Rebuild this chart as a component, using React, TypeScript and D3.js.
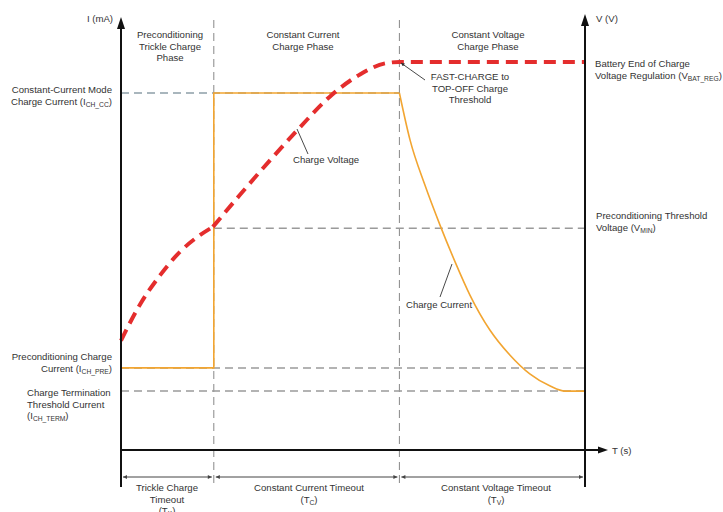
import React from "react";
import * as d3 from "d3";

// time in % of total charge cycle; phase boundaries
const phaseBounds = [0, 20, 60, 100];
const phaseLabels = [["Preconditioning", "Trickle Charge", "Phase"], ["Constant Current", "Charge Phase"], ["Constant Voltage", "Charge Phase"]];
const timeoutLabels = [["Trickle Charge", "Timeout", "(T|K|)"], ["Constant Current Timeout", "(T|C|)"], ["Constant Voltage Timeout", "(T|V|)"]];

// current levels (mA, relative)
const I_CC = 100;
const I_PRE = 23;
const I_TERM = 16.5;
// voltage levels
const V_BAT_REG = 4.2;
const V_MIN = 3.0;

// charge current curve
const currentT = [0, 20, 20, 60, 62.3, 65.5, 68.75, 72, 75.2, 79.5, 83.8, 88.1, 92.5, 95.7, 100];
const currentI = [23, 23, 100, 100, 86.8, 74.2, 63, 52.7, 43.4, 33.6, 26.6, 21.3, 17.9, 16.5, 16.5];
// charge voltage curve (two segments: preconditioning, then fast charge)
const voltT1 = [0, 4.1, 8.4, 12.7, 17, 19.8];
const voltV1 = [2.19, 2.45, 2.66, 2.83, 2.95, 3.01];
const voltT2 = [19.8, 25.6, 32.1, 38.6, 45, 51.5, 56.9, 60, 100];
const voltV2 = [3.01, 3.24, 3.49, 3.73, 3.95, 4.11, 4.19, 4.2, 4.2];

const FONT = "'Liberation Sans', Arial, sans-serif";
const FS = 9.6;
const TXT = "#333";

function Lbl({ x, y, lines, anchor = "start", lh = 11.7 }: { x: number; y: number; lines: string[]; anchor?: string; lh?: number }) {
  return (
    <text x={x} y={y} textAnchor={anchor as any} fontFamily={FONT} fontSize={FS} fill={TXT}>
      {lines.map((l, i) => {
        const parts = l.split("|");
        return (
          <tspan key={i} x={x} y={y + i * lh}>
            {parts.map((p, j) =>
              j % 2 === 1 ? (
                <tspan key={j} fontSize={FS * 0.7} dy={2}>{p}</tspan>
              ) : (
                <tspan key={j} dy={j > 0 ? -2 : 0}>{p}</tspan>
              )
            )}
          </tspan>
        );
      })}
    </text>
  );
}

export default function App() {
  const x = d3.scaleLinear().domain([0, 100]).range([121, 585]);
  const yI = d3.scaleLinear().domain([0, 100]).range([450, 93]);
  const yV = d3.scaleLinear().domain([1.4, 4.2]).range([450, 62]);

  const curLine = d3.line<number>().x((_, i) => x(currentT[i])).y((d) => yI(d));
  const curCurveLine = d3.line<number>().x((_, i) => x(currentT[i + 3])).y((d) => yI(d)).curve(d3.curveMonotoneX);
  const v1 = d3.line<number>().x((_, i) => x(voltT1[i])).y((d) => yV(d)).curve(d3.curveMonotoneX);
  const v2 = d3.line<number>().x((_, i) => x(voltT2[i])).y((d) => yV(d)).curve(d3.curveMonotoneX);

  const curStep = curLine(currentI.slice(0, 4).map((d) => d))!;
  const curDecay = curCurveLine(currentI.slice(3))!;

  const axisTop = 17;
  const axisBottom = 487;
  const xAxisY = 450;
  const gray = "#9a9a9a";
  const dash = "8,5";

  return (
    <svg width={723} height={512} style={{ position: "absolute", left: 0, top: 0 }}>
      <defs>
        <marker id="ah" viewBox="0 0 10 10" refX="10" refY="5" markerWidth="6" markerHeight="4" orient="auto-start-reverse">
          <path d="M0,0 L10,5 L0,10 z" fill="#444" />
        </marker>
        <marker id="ah2" viewBox="0 0 10 10" refX="10" refY="5" markerWidth="5" markerHeight="4" orient="auto">
          <path d="M0,0 L10,5 L0,10 z" fill="#333" />
        </marker>
      </defs>
      <rect width={723} height={512} fill="#fff" />

      {/* vertical dividers */}
      {phaseBounds.slice(1, 3).map((t) => (
        <line key={t} x1={x(t)} x2={x(t)} y1={20} y2={axisBottom} stroke="#888" strokeDasharray={dash} strokeWidth={1} />
      ))}

      {/* horizontal reference dashed lines */}
      <line x1={x(0)} x2={x(60)} y1={yI(I_CC)} y2={yI(I_CC)} stroke="#8d9ea8" strokeDasharray={dash} strokeWidth={1.5} />
      <line x1={x(20)} x2={x(100)} y1={yV(V_MIN)} y2={yV(V_MIN)} stroke={gray} strokeDasharray={dash} strokeWidth={1.5} />
      <line x1={x(0)} x2={x(100)} y1={yI(I_PRE)} y2={yI(I_PRE)} stroke={gray} strokeDasharray={dash} strokeWidth={1.5} />
      <line x1={x(0)} x2={x(100)} y1={yI(I_TERM)} y2={yI(I_TERM)} stroke={gray} strokeDasharray={dash} strokeWidth={1.5} />

      {/* charge current */}
      <path d={curStep} fill="none" stroke="#f2a531" strokeWidth={1.6} />
      <path d={curDecay} fill="none" stroke="#f2a531" strokeWidth={1.6} />

      {/* charge voltage */}
      <path d={v1!(voltV1)!} fill="none" stroke="#e42d2d" strokeWidth={4} strokeDasharray="12,7" />
      <path d={v2!(voltV2)!} fill="none" stroke="#e42d2d" strokeWidth={4} strokeDasharray="12,7" />

      {/* axes */}
      <line x1={x(0)} x2={x(0)} y1={axisBottom} y2={axisTop + 10} stroke="#111" strokeWidth={2} />
      <path d={`M${x(0) - 4},${axisTop + 12} L${x(0)},${axisTop} L${x(0) + 4},${axisTop + 12} z`} fill="#111" />
      <line x1={x(100)} x2={x(100)} y1={axisBottom} y2={axisTop + 7} stroke="#111" strokeWidth={2} />
      <path d={`M${x(100) - 4},${axisTop + 9} L${x(100)},${axisTop - 3} L${x(100) + 4},${axisTop + 9} z`} fill="#111" />
      <line x1={x(0)} x2={600} y1={xAxisY} y2={xAxisY} stroke="#111" strokeWidth={2} />
      <path d={`M${598},${xAxisY - 3.5} L${608},${xAxisY} L${598},${xAxisY + 3.5} z`} fill="#111" />

      {/* timeout arrows */}
      {phaseBounds.slice(0, 3).map((t, i) => (
        <line key={i} x1={x(t) + 2} x2={x(phaseBounds[i + 1]) - 2} y1={477} y2={477} stroke="#444" strokeWidth={1} markerStart="url(#ah)" markerEnd="url(#ah)" />
      ))}

      {/* leader lines */}
      <line x1={425} y1={80} x2={401} y2={63} stroke="#333" strokeWidth={0.9} markerEnd="url(#ah2)" />
      <line x1={308} y1={154} x2={297} y2={129} stroke="#333" strokeWidth={0.9} />
      <line x1={440} y1={297} x2={452} y2={264} stroke="#333" strokeWidth={0.9} />

      {/* axis titles */}
      <Lbl x={113} y={22} lines={["I (mA)"]} anchor="end" />
      <Lbl x={596} y={22} lines={["V (V)"]} />
      <Lbl x={612} y={454} lines={["T (s)"]} />

      {/* phase labels */}
      {phaseLabels.map((ls, i) => (
        <Lbl key={i} x={[170, 303, 488][i]} y={38} lines={ls} anchor="middle" />
      ))}
      {/* timeout labels */}
      {timeoutLabels.map((ls, i) => (
        <Lbl key={i} x={[167, 309, 496][i]} y={491} lines={ls} anchor="middle" lh={11.5} />
      ))}

      {/* level labels */}
      <Lbl x={112} y={93} lines={["Constant-Current Mode", "Charge Current (I|CH_CC|)"]} anchor="end" />
      <Lbl x={112} y={360} lines={["Preconditioning Charge", "Current (I|CH_PRE|)"]} anchor="end" />
      <Lbl x={27} y={396} lines={["Charge Termination", "Threshold Current", "(I|CH_TERM|)"]} />
      <Lbl x={595} y={67} lines={["Battery End of Charge", "Voltage Regulation (V|BAT_REG|)"]} />
      <Lbl x={596} y={219} lines={["Preconditioning Threshold", "Voltage (V|MIN|)"]} />

      {/* annotations */}
      <Lbl x={470} y={80} lines={["FAST-CHARGE to", "TOP-OFF Charge", "Threshold"]} anchor="middle" />
      <Lbl x={293} y={163} lines={["Charge Voltage"]} />
      <Lbl x={406} y={308} lines={["Charge Current"]} />
    </svg>
  );
}
